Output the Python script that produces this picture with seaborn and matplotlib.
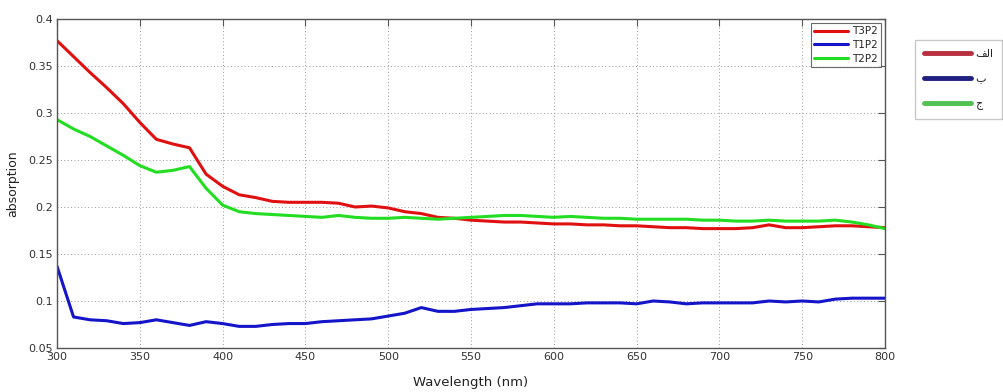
import numpy as np
import pandas as pd
import matplotlib
matplotlib.use("Agg")
import matplotlib.pyplot as plt
from matplotlib.lines import Line2D
import seaborn as sns

wavelength = list(range(300, 801, 10))
t3p2 = [0.377, 0.360, 0.343, 0.327, 0.310, 0.290, 0.272, 0.267, 0.263, 0.235,
        0.222, 0.213, 0.210, 0.206, 0.205, 0.205, 0.205, 0.204, 0.200, 0.201,
        0.199, 0.195, 0.193, 0.189, 0.188, 0.186, 0.185, 0.184, 0.184, 0.183,
        0.182, 0.182, 0.181, 0.181, 0.180, 0.180, 0.179, 0.178, 0.178, 0.177,
        0.177, 0.177, 0.178, 0.181, 0.178, 0.178, 0.179, 0.180, 0.180, 0.179,
        0.178]
t1p2 = [0.137, 0.083, 0.080, 0.079, 0.076, 0.077, 0.080, 0.077, 0.074, 0.078,
        0.076, 0.073, 0.073, 0.075, 0.076, 0.076, 0.078, 0.079, 0.080, 0.081,
        0.084, 0.087, 0.093, 0.089, 0.089, 0.091, 0.092, 0.093, 0.095, 0.097,
        0.097, 0.097, 0.098, 0.098, 0.098, 0.097, 0.100, 0.099, 0.097, 0.098,
        0.098, 0.098, 0.098, 0.100, 0.099, 0.100, 0.099, 0.102, 0.103, 0.103,
        0.103]
t2p2 = [0.293, 0.283, 0.275, 0.265, 0.255, 0.244, 0.237, 0.239, 0.243, 0.220,
        0.202, 0.195, 0.193, 0.192, 0.191, 0.190, 0.189, 0.191, 0.189, 0.188,
        0.188, 0.189, 0.188, 0.187, 0.188, 0.189, 0.190, 0.191, 0.191, 0.190,
        0.189, 0.190, 0.189, 0.188, 0.188, 0.187, 0.187, 0.187, 0.187, 0.186,
        0.186, 0.185, 0.185, 0.186, 0.185, 0.185, 0.185, 0.186, 0.184, 0.181,
        0.177]
series_names = ["T3P2", "T1P2", "T2P2"]
series_values = [t3p2, t1p2, t2p2]
colors = ["#e01010", "#1414c8", "#22dd22"]
legend2_labels = ["\uFED2\uFEDF\uFE8D", "\u0628", "\u062C"]
legend2_colors = ["#b83040", "#202080", "#50c050"]
xticks = list(range(300, 801, 50))
yticks = [0.05, 0.1, 0.15, 0.2, 0.25, 0.3, 0.35, 0.4]
ytick_labels = ["0.05", "0.1", "0.15", "0.2", "0.25", "0.3", "0.35", "0.4"]

rows = []
for name, vals in zip(series_names, series_values):
    for w, v in zip(wavelength, vals):
        rows.append({"Wavelength": w, "absorption": v, "series": name})
df = pd.DataFrame(rows)

sns.set_style("white")
plt.rcParams["font.family"] = ["DejaVu Sans"]

fig = plt.figure(figsize=(10.04, 3.92), dpi=100)
ax = fig.add_axes([57 / 1004, 1 - 348 / 392, (885 - 57) / 1004, (348 - 19) / 392])

sns.lineplot(data=df, x="Wavelength", y="absorption", hue="series",
             hue_order=series_names, palette=colors, linewidth=2.2, ax=ax,
             legend=False)

ax.set_xlim(300, 800)
ax.set_ylim(0.05, 0.4)
ax.set_xticks(xticks)
ax.set_xticklabels([str(t) for t in xticks], fontsize=8, color="#333333")
ax.set_yticks(yticks)
ax.set_yticklabels(ytick_labels, fontsize=8, color="#333333")
ax.tick_params(direction="in", length=5, top=True, right=True, color="#555555", pad=3)
ax.grid(True, linestyle=(0, (1, 2.5)), color="#999999", linewidth=0.7)
for sp in ax.spines.values():
    sp.set_color("#555555")
    sp.set_linewidth(1.0)
ax.set_xlabel("Wavelength (nm)", fontsize=9.5, color="#222222", labelpad=10)
ax.set_ylabel("absorption", fontsize=9, color="#222222", labelpad=6)

handles = [Line2D([0], [0], color=c, linewidth=2.2) for c in colors]
leg = ax.legend(handles, series_names, loc="upper right", fontsize=7.5,
                frameon=True, fancybox=False, edgecolor="#444444",
                handlelength=3.2, borderpad=0.3, labelspacing=0.35,
                handletextpad=0.4, borderaxespad=0.4)
leg.get_frame().set_linewidth(0.8)

handles2 = [Line2D([0], [0], color=c, linewidth=3.5) for c in legend2_colors]
leg2 = fig.legend(handles2, legend2_labels, loc="upper left",
                  bbox_to_anchor=(915 / 1004, 1 - 40 / 392), fontsize=8,
                  frameon=True, fancybox=False, edgecolor="#bbbbbb",
                  handlelength=4.2, borderpad=0.8, labelspacing=1.35,
                  handletextpad=0.4, borderaxespad=0.0)
leg2.get_frame().set_linewidth(1.0)

fig.savefig("out.png", dpi=100, facecolor="white")
